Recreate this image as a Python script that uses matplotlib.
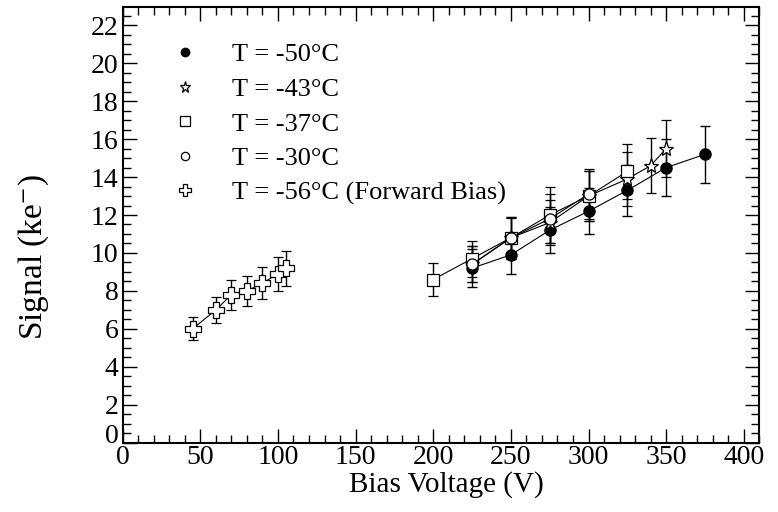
import matplotlib
matplotlib.use("Agg")
import matplotlib.pyplot as plt
from matplotlib.lines import Line2D
from matplotlib.ticker import MultipleLocator

plt.rcParams['font.family'] = ['Liberation Serif', 'DejaVu Serif']
plt.rcParams['mathtext.fontset'] = 'stix'

# ---- data ----
v_m50 = [225, 250, 275, 300, 325, 350, 375]
s_m50 = [9.2, 9.9, 11.2, 12.2, 13.3, 14.5, 15.2]
e_m50 = [1.0, 1.0, 1.2, 1.2, 1.35, 1.5, 1.5]

v_m43 = [225, 250, 275, 300, 325, 340, 350]
s_m43 = [9.4, 10.8, 11.6, 13.0, 13.9, 14.6, 15.5]
e_m43 = [0.95, 1.1, 1.2, 1.3, 1.4, 1.45, 1.5]

v_m37 = [200, 225, 250, 275, 300, 325]
s_m37 = [8.6, 9.7, 10.8, 12.0, 13.0, 14.3]
e_m37 = [0.85, 0.95, 1.05, 1.5, 1.3, 1.45]

v_m30 = [225, 250, 275, 300]
s_m30 = [9.4, 10.8, 11.8, 13.1]
e_m30 = [0.95, 1.1, 1.3, 1.3]

v_fwd = [45, 60, 70, 80, 90, 100, 105]
s_fwd = [6.0, 7.0, 7.8, 8.0, 8.4, 8.9, 9.2]
e_fwd = [0.6, 0.67, 0.8, 0.8, 0.85, 0.9, 0.92]

labels = ["T = -50\u00b0C", "T = -43\u00b0C", "T = -37\u00b0C", "T = -30\u00b0C",
          "T = -56\u00b0C (Forward Bias)"]
x_ticks = [0, 50, 100, 150, 200, 250, 300, 350, 400]
y_ticks = [0, 2, 4, 6, 8, 10, 12, 14, 16, 18, 20, 22]

# ---- figure ----
fig = plt.figure(figsize=(7.78, 5.12), dpi=100)
ax = fig.add_axes([0.1577, 0.1354, 0.8183, 0.8504])

series = [
    (v_m50, s_m50, e_m50, dict(marker='o', ms=8, mfc='black', mec='black')),
    (v_m43, s_m43, e_m43, dict(marker='*', ms=11, mfc='white', mec='black', mew=0.9)),
    (v_m37, s_m37, e_m37, dict(marker='s', ms=9, mfc='white', mec='black', mew=0.9)),
    (v_m30, s_m30, e_m30, dict(marker='o', ms=8, mfc='white', mec='black', mew=0.9)),
    (v_fwd, s_fwd, e_fwd, dict(marker='P', ms=12, mfc='white', mec='black', mew=0.9)),
]

for v, s, e, st in series:
    ax.errorbar(v, s, yerr=e, color='black', lw=0.8, elinewidth=1.0,
                capsize=3.5, capthick=1.0, **st)

handles = []
for v, s, e, st in series:
    handles.append(Line2D([], [], linestyle='none', color='black', **st))
ax.legend(handles, labels, loc='upper left', bbox_to_anchor=(0.077, 0.918),
          frameon=False, fontsize=19, handlelength=1.0, handletextpad=1.28,
          labelspacing=0.42, borderpad=0, borderaxespad=0, markerscale=0.75)

ax.set_xlim(0, 410)
ax.set_ylim(0, 22.95)
ax.set_xticks(x_ticks)
ax.set_yticks(y_ticks)
ax.xaxis.set_minor_locator(MultipleLocator(10))
ax.yaxis.set_minor_locator(MultipleLocator(0.5))
ax.tick_params(which='both', direction='in', top=True, right=True,
               labelsize=20, width=1.0)
ax.tick_params(which='major', length=10)
ax.tick_params(which='minor', length=5.5)
ax.tick_params(axis='x', pad=2)
ax.tick_params(axis='y', pad=3)
for sp in ax.spines.values():
    sp.set_linewidth(1.5)

# ROOT-style placement of the "0" on the y axis (sits slightly higher)
ax.yaxis.get_major_ticks()[0].label1.set_verticalalignment('baseline')

ax.set_xlabel("Bias Voltage (V)", fontsize=21)
ax.set_ylabel(r"Signal (ke$^{-}$)", fontsize=24)
ax.xaxis.set_label_coords(0.509, -0.066)
ax.yaxis.set_label_coords(-0.112, 0.4265)

fig.savefig("out.png", dpi=100)
